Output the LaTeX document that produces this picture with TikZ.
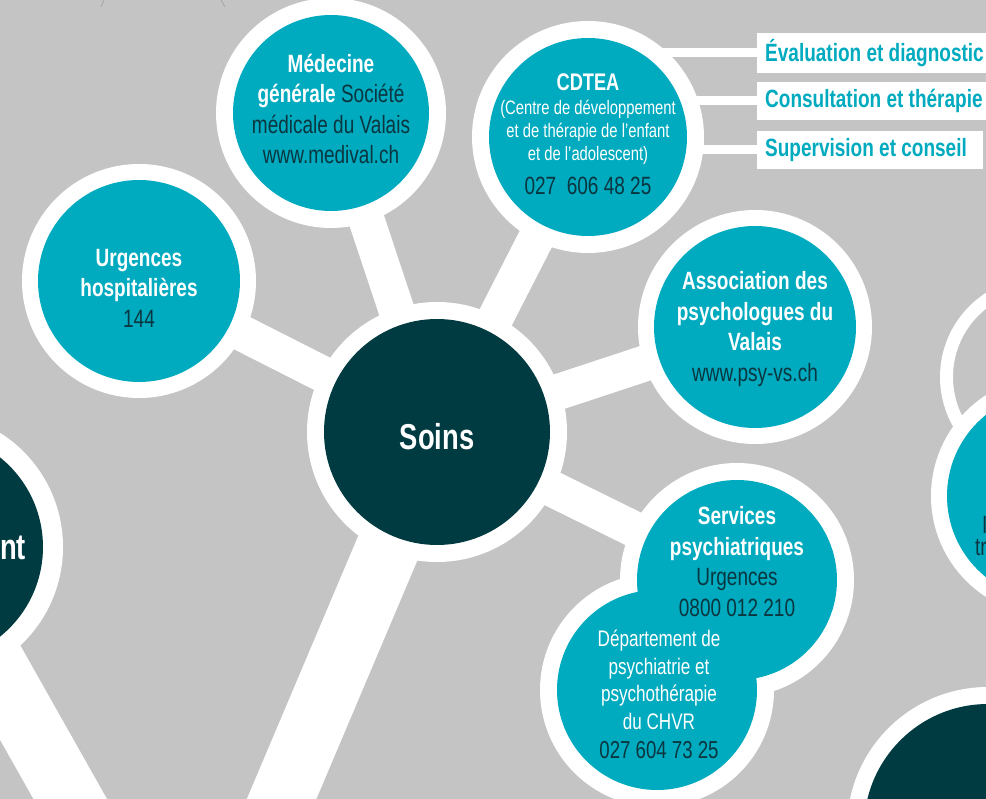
\documentclass[tikz,border=0pt]{standalone}
\usepackage{fontspec}
\setmainfont{Liberation Sans}[FakeStretch=0.76]
\usetikzlibrary{calc}
\definecolor{bggray}{HTML}{C4C4C4}
\definecolor{teal1}{HTML}{00AABF}
\definecolor{darkc}{HTML}{003B42}
\definecolor{darktxt}{HTML}{0A3640}
\pgfdeclarelayer{back}
\pgfdeclarelayer{links}
\pgfsetlayers{back,links,main}
\newcommand\fmain{\fontsize{25}{30.5}\selectfont}
\newcommand\fsmall{\fontsize{19.5}{23}\selectfont}
\newcommand\fdept{\fontsize{22.5}{27.5}\selectfont}
\newcommand\fbig{\fontsize{36}{40}\selectfont\bfseries}
\newcommand\Wb[1]{\textcolor{white}{\bfseries #1}}
\begin{document}
\begin{tikzpicture}[x=1pt,y=-1pt,
  disc/.style={circle,inner sep=0pt,minimum size=#1,fill=teal1},
  darkdisc/.style={circle,inner sep=0pt,minimum size=#1,fill=darkc},
  bar/.style={white,line width=36pt},
  trunk/.style={white,line width=64pt},
  hline/.style={white,line width=9pt},
  tbox/.style={rectangle,fill=white,inner sep=0pt,anchor=west,minimum height=#1},
  boxtxt/.style={anchor=west,inner sep=0pt,text=teal1,font=\fmain\bfseries},
  txt/.style={align=center,inner sep=0pt,text=darktxt,font=\fmain},
  halo/.style={fill=white}
]
\useasboundingbox (0,0) rectangle (986,799);
\clip (0,0) rectangle (986,799);
\begin{pgfonlayer}{back}
  \fill[bggray] (0,0) rectangle (986,799);
  \draw[gray!70!white,line width=0.8pt] (104,0) -- (101,7);
  \draw[gray!70!white,line width=0.8pt] (221,0) -- (225,7);
\end{pgfonlayer}

% circles
\node[disc=196pt] (med) at (331,113) {};
\node[disc=202pt] (urg) at (139,281) {};
\node[disc=198pt] (cdtea) at (588,137) {};
\node[disc=202pt] (apv) at (755,327) {};
\node[disc=200pt] (srv) at (737,580) {};
\node[disc=200pt] (dpt) at (657,690) {};
\node[disc=208pt] (rgt) at (1051,496) {};
\node[darkdisc=226pt] (soins) at (437,432) {};
\node[darkdisc=230pt] (lft) at (-72,547) {};
\node[darkdisc=248pt] (brc) at (988,828) {};

% boxes
\node[tbox=40pt,minimum width=240pt] (box1) at (757,53) {};
\node[tbox=38pt,minimum width=240pt] (box2) at (757,101) {};
\node[tbox=38pt,minimum width=226pt] (box3) at (757,150) {};
\node[boxtxt] (b1t) at ([xshift=8pt]box1.west) {Évaluation et diagnostic};
\node[boxtxt] (b2t) at ([xshift=8pt]box2.west) {Consultation et thérapie};
\node[boxtxt] (b3t) at ([xshift=8pt]box3.west) {Supervision et conseil};

\begin{pgfonlayer}{links}
  \coordinate (t1) at (260,850);
  \coordinate (t2) at (99,850);
  \draw[bar] (soins.center) -- (med.center);
  \draw[bar] (soins.center) -- (urg.center);
  \draw[bar] (soins.center) -- (cdtea.center);
  \draw[bar] (soins.center) -- (apv.center);
  \draw[bar] (soins.center) -- (srv.center);
  \draw[trunk] (soins.center) -- (t1);
  \draw[trunk] (lft.center) -- (t2);
  \draw[hline] (cdtea.center |- box1.west) -- (box1.west);
  \draw[hline] (cdtea.center |- box2.west) -- (box2.west);
  \draw[hline] (cdtea.center |- box3.west) -- (box3.west);
  \node[circle,draw=white,line width=13pt,minimum size=187pt,inner sep=0pt] (ringc) at (1040,377) {};
  \fill[halo] (med.center) circle (115pt);
  \fill[halo] (urg.center) circle (117pt);
  \fill[halo] (cdtea.center) circle (116pt);
  \fill[halo] (apv.center) circle (117pt);
  \fill[halo] (srv.center) circle (117pt);
  \fill[halo] (dpt.center) circle (117pt);
  \fill[halo] (rgt.center) circle (120pt);
  \fill[halo] (soins.center) circle (130pt);
  \fill[halo] (lft.center) circle (135pt);
  \fill[halo] (brc.center) circle (141pt);
\end{pgfonlayer}

% texts
\node[txt] (medt) at (331,109) {\Wb{Médecine}\\\Wb{générale} Société\\médicale du Valais\\www.medival.ch};
\node[txt] (urgt) at (139,288) {\Wb{Urgences}\\\Wb{hospitalières}\\144};
\node[txt,text=white,font=\fontsize{24}{28}\selectfont\bfseries] (cdt1) at (588,82) {CDTEA};
\node[txt,text=white,font=\fsmall] (cdt2) at (588,132) {(Centre de développement\\et de thérapie de l’enfant\\et de l’adolescent)};
\node[txt,font=\fontsize{25}{28}\selectfont] (cdt3) at (588,186) {027\ \ 606 48 25};
\node[txt] (apvt) at (755,329) {\Wb{Association des}\\\Wb{psychologues du}\\\Wb{Valais}\\www.psy-vs.ch};
\node[txt] (srvt) at (737,561.5) {\Wb{Services}\\\Wb{psychiatriques}\\Urgences\\0800 012 210};
\node[txt,text=white,font=\fdept] (dptt) at (659,680) {Département de\\psychiatrie et\\psychothérapie\\du CHVR};
\node[txt,font=\fontsize{24.5}{28}\selectfont] (dptn) at (659,750) {027 604 73 25};
\node[txt,text=white,font=\fbig] (soinst) at (437,437) {Soins};
\node[txt,text=white,font=\fbig,anchor=west] (lftt) at (0,548) {nt};
\node[txt,anchor=west] (rgt1) at (982,525) {I};
\node[txt,anchor=west] (rgt2) at (975,548) {tr};
\end{tikzpicture}
\end{document}
